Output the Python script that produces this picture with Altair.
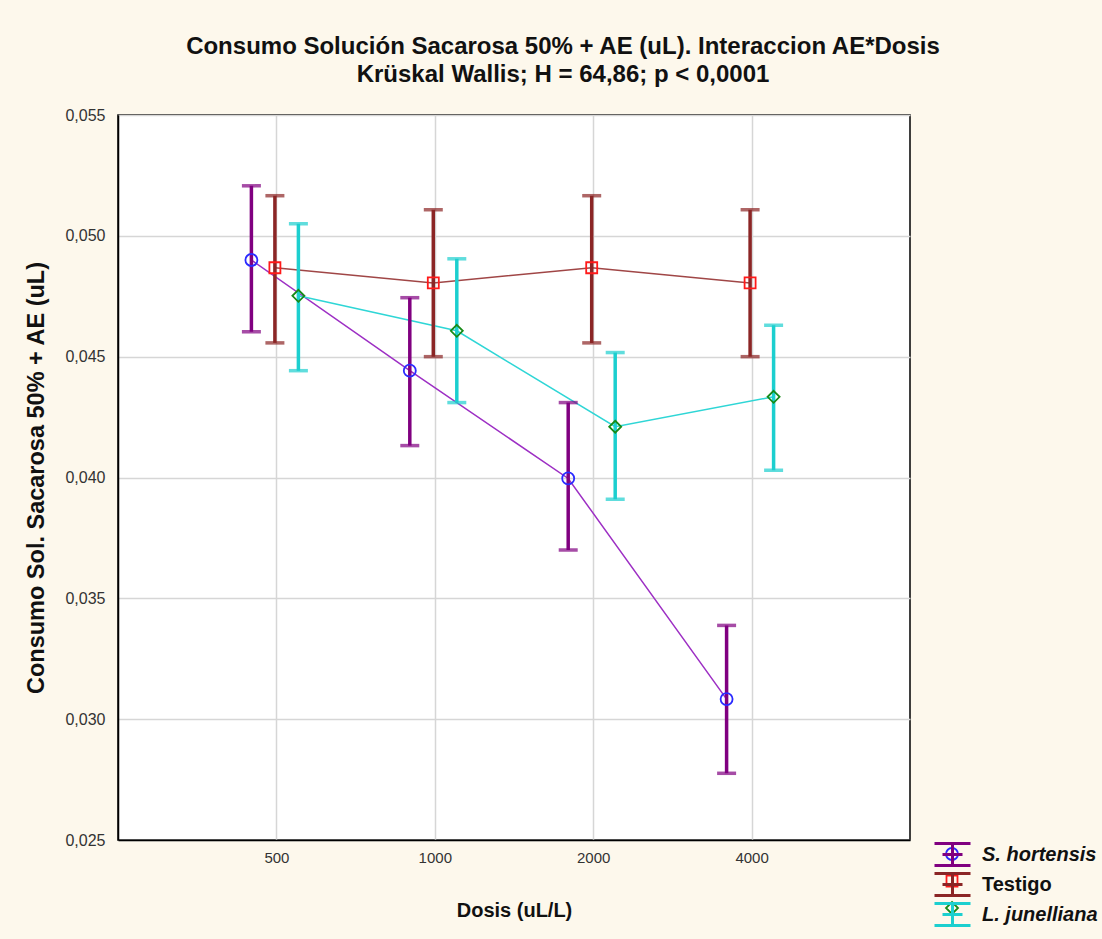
import altair as alt
import pandas as pd

doses = ["500", "1000", "2000", "4000"]
series = ["S. hortensis", "Testigo", "L. junelliana"]

s_mean = [0.0490, 0.04442, 0.03996, 0.03083]
s_lo = [0.04603, 0.04132, 0.03700, 0.02776]
s_hi = [0.05207, 0.04744, 0.04310, 0.03388]

t_mean = [0.04868, 0.04805, 0.04868, 0.04805]
t_lo = [0.04557, 0.04500, 0.04557, 0.04500]
t_hi = [0.05166, 0.05108, 0.05166, 0.05108]

l_mean = [0.04752, 0.04607, 0.04210, 0.04334]
l_lo = [0.04442, 0.04310, 0.03910, 0.04030]
l_hi = [0.05050, 0.04905, 0.04517, 0.04630]

y_ticks = [0.025, 0.030, 0.035, 0.040, 0.045, 0.050, 0.055]

bar_colors = ["#800080", "#8b2525", "#1ccfcf"]
line_colors = ["#9d2fc4", "#a04646", "#2fd6d6"]
marker_colors = ["#2a2aff", "#ff1a1a", "#178a17"]

# invisible moveTo points give every legend symbol the same bounding box
BOX = "M-1.8,-1.16M1.8,1.16"
CIRCLE = BOX + "M-0.6,0A0.6,0.6 0 1,0 0.6,0A0.6,0.6 0 1,0 -0.6,0Z"
SQUARE = BOX + "M-0.55,-0.55H0.55V0.55H-0.55Z"
DIAMOND = BOX + "M0,-0.6L0.6,0L0,0.6L-0.6,0Z"
IBEAM = "M-1.8,-1.1H1.8M0,-1.1V1.1M-1.8,1.1H1.8M-1.0,0H1.0"

rows = []
for name, m, lo, hi in [("S. hortensis", s_mean, s_lo, s_hi),
                        ("Testigo", t_mean, t_lo, t_hi),
                        ("L. junelliana", l_mean, l_lo, l_hi)]:
    for d, a, b, c in zip(doses, m, lo, hi):
        rows.append({"series": name, "dose": d, "mean": a, "lo": b, "hi": c})
df = pd.DataFrame(rows)

FONT = "Liberation Sans"
LEG_X, LEG_Y = 823, 728
ROWPAD = -5

x_enc = alt.X("dose:N", sort=doses, title="Dosis (uL/L)",
              scale=alt.Scale(type="point", padding=1),
              axis=alt.Axis(labelAngle=0, ticks=False, grid=True, gridColor="#d6d6d6",
                            gridWidth=1.5, domainColor="black", domainWidth=1.5,
                            labelFont=FONT, labelFontSize=15, labelColor="#333333",
                            labelPadding=10, titleFont=FONT, titleFontSize=20,
                            titleFontWeight="bold", titleColor="#111111", titlePadding=35))
xoff = alt.XOffset("k:Q", scale=alt.Scale(domain=[0, 2], range=[-25, 22]))
y_scale = alt.Scale(domain=[0.025, 0.055], nice=False, zero=False)
y_axis = alt.Axis(values=y_ticks, labelExpr="replace(format(datum.value, '.3f'), '.', ',')",
                  ticks=False, grid=True, gridColor="#d6d6d6", gridWidth=1.5,
                  domainColor="black", domainWidth=1.5,
                  labelFont=FONT, labelFontSize=16, labelColor="#333333", labelPadding=13,
                  titleFont=FONT, titleFontSize=23.5, titleFontWeight="bold",
                  titleColor="#111111", titlePadding=16)

base = alt.Chart(df).transform_calculate(
    k="indexof(['S. hortensis', 'Testigo', 'L. junelliana'], datum.series)"
)

lines = base.mark_line(strokeWidth=1.5).encode(
    x=x_enc, xOffset=xoff,
    y=alt.Y("mean:Q", scale=y_scale, axis=y_axis,
            title="Consumo Sol. Sacarosa 50% + AE (uL)"),
    color=alt.Color("series:N", sort=series,
                    scale=alt.Scale(domain=series, range=line_colors), legend=None),
    detail="series:N",
)

rules = base.mark_rule(strokeWidth=3.5).encode(
    x=x_enc, xOffset=xoff,
    y=alt.Y("lo:Q", scale=y_scale),
    y2="hi:Q",
    color=alt.Color("series:N", sort=series,
                    scale=alt.Scale(domain=series, range=bar_colors),
                    legend=alt.Legend(title=None, orient="none", legendX=LEG_X, legendY=LEG_Y,
                                      symbolType=IBEAM, symbolSize=400, symbolStrokeWidth=3,
                                      labelFont=FONT, labelFontSize=20, labelFontWeight="bold",
                                      labelFontStyle={"expr": "datum.value == 'Testigo' ? 'normal' : 'italic'"},
                                      labelColor="#111111", labelOffset=18, rowPadding=ROWPAD,
                                      padding=0)),
)

cap_lo = base.mark_tick(orient="horizontal", size=19, thickness=3.5).encode(
    x=x_enc, xOffset=xoff,
    y=alt.Y("lo:Q", scale=y_scale),
    color=alt.Color("series:N", sort=series,
                    scale=alt.Scale(domain=series, range=bar_colors), legend=None),
)
cap_hi = base.mark_tick(orient="horizontal", size=19, thickness=3.5).encode(
    x=x_enc, xOffset=xoff,
    y=alt.Y("hi:Q", scale=y_scale),
    color=alt.Color("series:N", sort=series,
                    scale=alt.Scale(domain=series, range=bar_colors), legend=None),
)

marker_legend = alt.Legend(title=None, orient="none", legendX=LEG_X, legendY=LEG_Y,
                           symbolSize=400, symbolStrokeWidth=1.8,
                           labelFont=FONT, labelFontSize=20, labelFontWeight="bold",
                           labelExpr="''", labelOffset=18, rowPadding=ROWPAD, padding=0)

points = base.mark_point(filled=False, size=400, strokeWidth=1.8, opacity=1).encode(
    x=x_enc, xOffset=xoff,
    y=alt.Y("mean:Q", scale=y_scale),
    stroke=alt.Stroke("series:N", sort=series,
                      scale=alt.Scale(domain=series, range=marker_colors),
                      legend=marker_legend),
    shape=alt.Shape("series:N", sort=series,
                    scale=alt.Scale(domain=series, range=[CIRCLE, SQUARE, DIAMOND]),
                    legend=marker_legend),
)

chart = alt.layer(lines, rules, cap_lo, cap_hi, points).resolve_scale(
    color="independent"
).properties(
    width=792, height=725,
    title=alt.TitleParams(
        text=["Consumo Solución Sacarosa 50% + AE (uL). Interaccion AE*Dosis",
              "Krüskal Wallis; H = 64,86; p < 0,0001"],
        font=FONT, fontSize=24, fontWeight="bold", color="#111111",
        anchor="middle", dx=49, offset=20, lineHeight=28),
    autosize=alt.AutoSizeParams(type="none"),
    padding={"left": 118, "top": 115, "right": 192, "bottom": 99},
    background="#fdf8ec",
).configure_view(fill="white", stroke="black", strokeWidth=1.5)

chart.save("out.html", embed_options={"renderer": "svg", "actions": False})
